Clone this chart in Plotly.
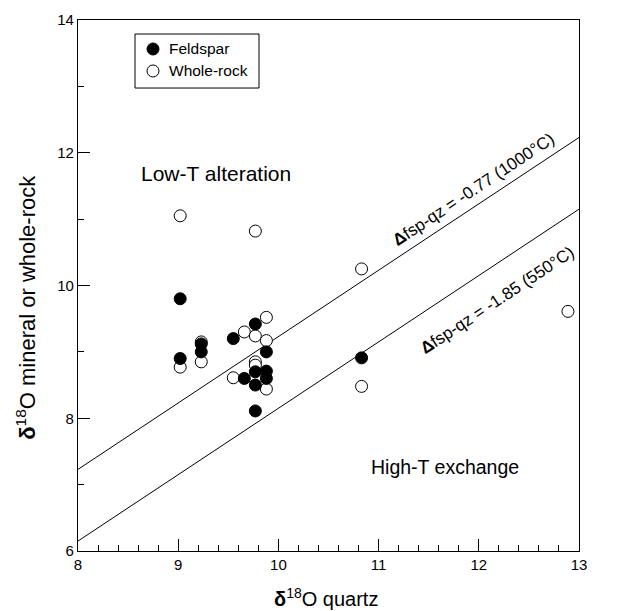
import plotly.graph_objects as go

# Feldspar (filled)
fsp_qz = [9.02, 9.02, 9.23, 9.23, 9.55, 9.66, 9.77, 9.77, 9.77, 9.77, 9.88, 9.88, 9.88, 10.83]
fsp_val = [9.80, 8.90, 9.12, 9.00, 9.20, 8.60, 9.42, 8.70, 8.50, 8.11, 9.00, 8.71, 8.60, 8.91]

# Whole-rock (open)
wr_qz = [9.02, 9.02, 9.23, 9.23, 9.55, 9.66, 9.77, 9.77, 9.77, 9.77, 9.88, 9.88, 9.88, 10.83, 10.83, 12.89]
wr_val = [11.05, 8.77, 9.15, 8.85, 8.61, 9.30, 10.82, 9.24, 8.85, 8.80, 9.52, 9.17, 8.44, 10.25, 8.48, 9.61]

# Isotherm lines: delta(fsp-qz)
line_x = [8, 13]
delta_1000 = -0.77
delta_550 = -1.85

# legend entries (name, fill colour)
legend_names = ["Feldspar", "Whole-rock"]
legend_fill = ["black", "white"]

FONT = "Arial, Liberation Sans, Helvetica, sans-serif"

fig = go.Figure()
fig.add_trace(go.Scatter(x=line_x, y=[v + delta_1000 for v in line_x], mode="lines",
                         line=dict(color="black", width=1), showlegend=False, hoverinfo="skip"))
fig.add_trace(go.Scatter(x=line_x, y=[v + delta_550 for v in line_x], mode="lines",
                         line=dict(color="black", width=1), showlegend=False, hoverinfo="skip"))
fig.add_trace(go.Scatter(x=wr_qz, y=wr_val, mode="markers", name="Whole-rock", showlegend=False,
                         marker=dict(symbol="circle", size=12, color="white",
                                     line=dict(color="black", width=1))))
fig.add_trace(go.Scatter(x=fsp_qz, y=fsp_val, mode="markers", name="Feldspar", showlegend=False,
                         marker=dict(symbol="circle", size=12, color="black",
                                     line=dict(color="black", width=1))))

# region labels
fig.add_annotation(x=9.38, y=11.69, text="Low-T alteration", showarrow=False,
                   font=dict(size=21, color="black", family=FONT))
fig.add_annotation(x=11.66, y=7.27, text="High-T exchange", showarrow=False,
                   font=dict(size=19.5, color="black", family=FONT))
# isotherm labels
fig.add_annotation(x=11.95, y=11.44, text="<b>Δ</b>fsp-qz = -0.77 (1000°C)", showarrow=False,
                   textangle=-33.5, font=dict(size=17, color="black", family=FONT))
fig.add_annotation(x=12.18, y=9.78, text="<b>Δ</b>fsp-qz = -1.85 (550°C)", showarrow=False,
                   textangle=-33.5, font=dict(size=17, color="black", family=FONT))

# axis titles
fig.add_annotation(xref="paper", yref="paper", x=0.495, y=-0.0885, xanchor="center", yanchor="middle",
                   text="<b>δ</b><sup>18</sup>O quartz", showarrow=False,
                   font=dict(size=20, color="black", family=FONT))
fig.add_annotation(xref="paper", yref="paper", x=-0.1038, y=0.46, xanchor="center", yanchor="middle",
                   text="<b>δ</b><sup>18</sup>O mineral or whole-rock", showarrow=False, textangle=-90,
                   font=dict(size=22, color="black", family=FONT))

# legend box drawn manually
fig.add_shape(type="rect", xref="paper", yref="paper", x0=0.1138, x1=0.3613, y0=0.8719, y1=0.9736,
              line=dict(color="black", width=1), fillcolor="white", layer="above")
leg_x = 0.1497
leg_y = [0.9454, 0.9040]
for name, fill, yy in zip(legend_names, legend_fill, leg_y):
    fig.add_shape(type="circle", xref="paper", yref="paper", xsizemode="pixel", ysizemode="pixel",
                  xanchor=leg_x, yanchor=yy, x0=-6, x1=6, y0=-6, y1=6,
                  line=dict(color="black", width=1), fillcolor=fill, layer="above")
    fig.add_annotation(xref="paper", yref="paper", x=0.1776, y=yy, xanchor="left", yanchor="middle",
                       text=name, showarrow=False, font=dict(size=15.5, color="black", family=FONT))

axis_common = dict(showgrid=False, zeroline=False, showline=True, linecolor="black",
                   linewidth=1.2, mirror=True, ticks="inside", ticklen=12, tickwidth=1,
                   tickcolor="black", automargin=False,
                   tickfont=dict(size=15, color="black", family=FONT))

fig.update_xaxes(range=[8, 13], dtick=1, tick0=8,
                 minor=dict(dtick=0.2, ticks="inside", ticklen=6, tickcolor="black", showgrid=False),
                 **axis_common)
fig.update_yaxes(range=[6, 14], dtick=2, tick0=6,
                 minor=dict(dtick=1, ticks="inside", ticklen=6, tickcolor="black", showgrid=False),
                 **axis_common)

fig.update_layout(
    width=612, height=603,
    margin=dict(l=70, r=41, t=12, b=60),
    paper_bgcolor="white", plot_bgcolor="white",
    font=dict(family=FONT, color="black"),
    showlegend=False,
)

fig.write_html("out.html")
